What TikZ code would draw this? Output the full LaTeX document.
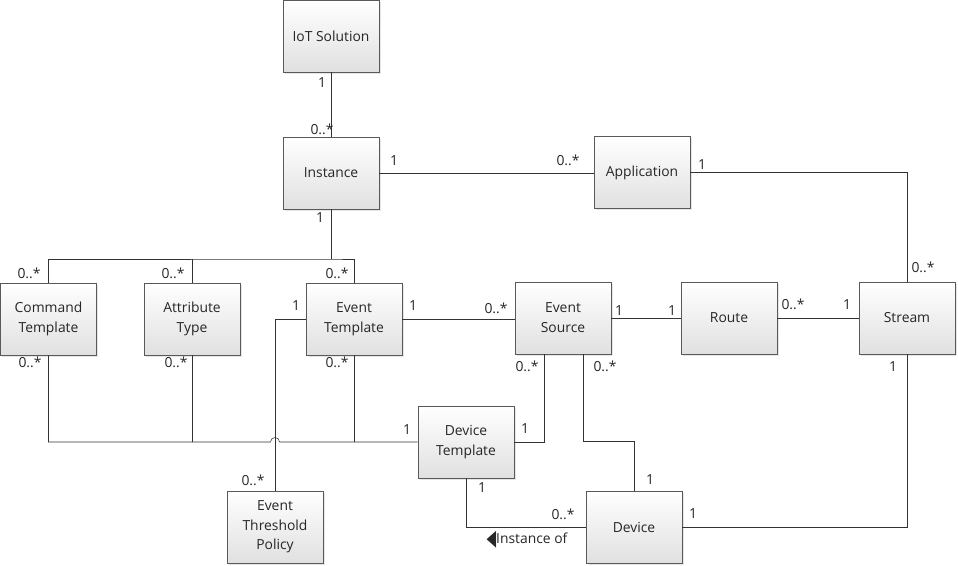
\documentclass[tikz,border=0pt]{standalone}
\usepackage{fontspec}
\setmainfont{Open Sans}
\newfontfamily\symfont{DejaVu Sans}
\usetikzlibrary{calc,shadows}

\begin{document}
\begin{tikzpicture}[x=0.75pt,y=-0.75pt,
    font=\fontsize{10.4}{15}\selectfont,text=black!85,
    box/.style={draw=black!65,top color=white,bottom color=black!12,
        minimum width=72pt,minimum height=54pt,align=center,inner sep=2pt,
        drop shadow={shadow xshift=1.2pt,shadow yshift=-1.2pt,opacity=0.2}},
    link/.style={draw=black!80},
    mult/.style={inner sep=1pt}]
    \useasboundingbox (0,0) rectangle (958,566);

    % Classes
    \node[box] (iot) at (331,36) {IoT Solution};
    \node[box] (inst) at (331,173) {Instance};
    \node[box] (app) at (642,172.5) {Application};
    \node[box] (cmd) at (48.5,319) {Command\\Template};
    \node[box] (attr) at (192,319) {Attribute\\Type};
    \node[box] (evt) at (354,319) {Event\\Template};
    \node[box] (es) at (563,318) {Event\\Source};
    \node[box] (route) at (729,318) {Route};
    \node[box] (st) at (907,318) {Stream};
    \node[box] (dt) at (466,442) {Device\\Template};
    \node[box,font=\fontsize{10.4}{14.5}\selectfont] (etp) at (275,527) {Event\\Threshold\\Policy};
    \node[box] (dev) at (634,527) {Device};

    % Top associations
    \draw[link] (iot) -- (inst);
    \draw[link] (inst.east) -- (inst.east -| app.west);
    \draw[link] (app.east) -| (st.north);
    \coordinate (bus) at (331,259);
    \draw[link] (inst.south) -- (bus);
    \draw[link] (cmd.north) |- (bus) -| (evt.north);
    \draw[link] (attr.north) -- (attr.north |- bus);

    % Middle row
    \draw[link] (evt.east) -- (evt.east -| es.west);
    \draw[link] (es) -- (route);
    \draw[link] (route) -- (st);
    \draw[link] (etp.north) |- (evt.west);

    % Bottom bus to device template (hop over threshold policy line)
    \draw[link] (cmd.south) |- ($(etp.north |- dt.west)+(-4.5,0)$)
        arc[start angle=180,end angle=0,radius=3.4pt] -- (dt.west);
    \draw[link] (attr.south) -- (attr.south |- dt.west);
    \draw[link] (evt.south) -- (evt.south |- dt.west);

    % Devices
    \draw[link] (dt.east) -| ($(es.south)+(-19,0)$);
    \draw[link] ($(es.south)+(20,0)$) -- ++(0,87) -| (dev.north);
    \draw[link] (dt.south) |- (dev.west);
    \draw[link] (st.south) |- (dev.east);

    % Multiplicities
    \node[mult] (m1) at (322,83) {1};
    \node[mult] (m2) at (322,129) {0..*};
    \node[mult] (m3) at (394,161) {1};
    \node[mult] (m4) at (568,160) {0..*};
    \node[mult] (m5) at (702,165) {1};
    \node[mult] (m6) at (923,267) {0..*};
    \node[mult] (m7) at (320,218) {1};
    \node[mult] (m8) at (29,273) {0..*};
    \node[mult] (m9) at (173,273) {0..*};
    \node[mult] (m10) at (337,273) {0..*};
    \node[mult] (m11) at (296,306) {1};
    \node[mult] (m12) at (413,306) {1};
    \node[mult] (m13) at (496,308) {0..*};
    \node[mult] (m14) at (619,311) {1};
    \node[mult] (m15) at (672,311) {1};
    \node[mult] (m16) at (793,304) {0..*};
    \node[mult] (m17) at (847,305) {1};
    \node[mult] (m18) at (30,362) {0..*};
    \node[mult] (m19) at (176,362) {0..*};
    \node[mult] (m20) at (337,362) {0..*};
    \node[mult] (m21) at (527,366) {0..*};
    \node[mult] (m22) at (605,366) {0..*};
    \node[mult] (m23) at (893,367) {1};
    \node[mult] (m24) at (407,430) {1};
    \node[mult] (m25) at (525,429) {1};
    \node[mult] (m26) at (253,480) {0..*};
    \node[mult] (m27) at (650,480) {1};
    \node[mult] (m28) at (482,488) {1};
    \node[mult] (m29) at (563,514) {0..*};
    \node[mult] (m30) at (693,514) {1};
    \node[mult] (instof) at (527,540) {\raisebox{-1.5pt}{\scalebox{0.9}[1.6]{\symfont ◀}}Instance of};
\end{tikzpicture}
\end{document}
